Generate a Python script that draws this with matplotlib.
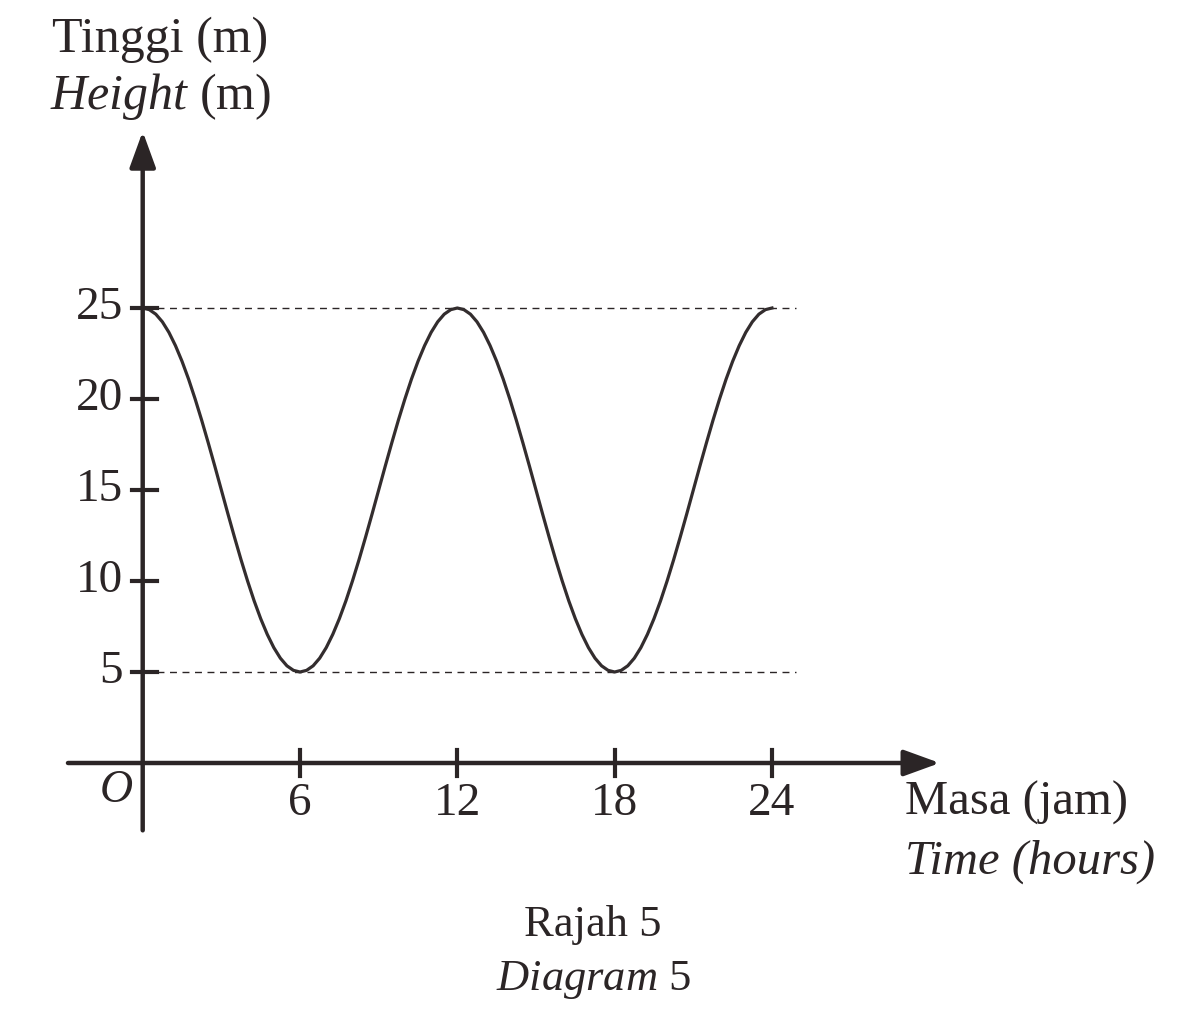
import matplotlib
matplotlib.use('Agg')
import matplotlib.pyplot as plt

plt.rcParams['font.family'] = ['Liberation Serif', 'DejaVu Serif']
plt.rcParams['mathtext.fontset'] = 'custom'
plt.rcParams['mathtext.rm'] = 'Liberation Serif'
plt.rcParams['mathtext.it'] = 'Liberation Serif:italic'

# heights every quarter hour
time_h = [i * 0.25 for i in range(97)]
height_m = [
    # 0 - 6 h
    25, 24.91, 24.66, 24.24, 23.66, 22.93, 22.07, 21.09, 20, 18.83, 17.59, 16.31,
    15, 13.69, 12.41, 11.17, 10, 8.91, 7.93, 7.07, 6.34, 5.76, 5.34, 5.09,
    # 6 - 12 h
    5, 5.09, 5.34, 5.76, 6.34, 7.07, 7.93, 8.91, 10, 11.17, 12.41, 13.69,
    15, 16.31, 17.59, 18.83, 20, 21.09, 22.07, 22.93, 23.66, 24.24, 24.66, 24.91,
    # 12 - 18 h
    25, 24.91, 24.66, 24.24, 23.66, 22.93, 22.07, 21.09, 20, 18.83, 17.59, 16.31,
    15, 13.69, 12.41, 11.17, 10, 8.91, 7.93, 7.07, 6.34, 5.76, 5.34, 5.09,
    # 18 - 24 h
    5, 5.09, 5.34, 5.76, 6.34, 7.07, 7.93, 8.91, 10, 11.17, 12.41, 13.69,
    15, 16.31, 17.59, 18.83, 20, 21.09, 22.07, 22.93, 23.66, 24.24, 24.66, 24.91,
    25,
]
x_ticks = [6, 12, 18, 24]
y_ticks = [5, 10, 15, 20, 25]
ref_lines = [25, 5]

ink = '#2b2526'
W, H = 1179, 1023
fig = plt.figure(figsize=(W / 100, H / 100), dpi=100)
ax = fig.add_axes([0, 0, 1, 1])
ax.axis('off')

# pixel scale of the original drawing
x0, sx = 142.7, 26.22
y0, sy = 763, 18.2
ax.set_xlim(-x0 / sx, (W - x0) / sx)
ax.set_ylim((y0 - H) / sy, y0 / sy)

# axes with arrows
arr = dict(arrowstyle='-|>,head_length=1.1,head_width=0.4', lw=3.2,
           color=ink, shrinkA=0, shrinkB=0, mutation_scale=20)
ax.annotate('', xy=(30.4, 0), xytext=(-2.85, 0), arrowprops=arr)
ax.annotate('', xy=(0, 34.7), xytext=(0, -3.7), arrowprops=arr)

# dashed reference lines
for v in ref_lines:
    ax.plot([0.55, 24.9], [v, v], ls=(0, (5, 4)), lw=1.0, color=ink)

# curve
ax.plot(time_h, height_m, color='#332d2e', lw=2.3, solid_joinstyle='round')

# ticks and labels
for t in x_ticks:
    ax.plot([t, t], [-0.7, 0.7], color=ink, lw=3)
    ax.text(t, -2.25, str(t), ha='center', va='center', fontsize=34, color=ink)
for v in y_ticks:
    ax.plot([-0.42, 0.55], [v, v], color=ink, lw=3)
    ax.text(-0.75, v, str(v), ha='right', va='center', fontsize=34, color=ink)
ax.text(-1.0, -1.5, 'O', style='italic', ha='center', va='center',
        fontsize=33, color=ink)

# axis titles
ax.text(52 / W, 1 - 40 / H, 'Tinggi (m)', transform=fig.transFigure,
        ha='left', va='center', fontsize=36, color=ink)
ax.text(50 / W, 1 - 97 / H, '$\\mathit{Height}$ (m)', transform=fig.transFigure,
        ha='left', va='center', fontsize=36, color=ink)
ax.text(905 / W, 1 - 803 / H, 'Masa (jam)', transform=fig.transFigure,
        ha='left', va='center', fontsize=35, color=ink)
ax.text(905 / W, 1 - 862 / H, 'Time (hours)', style='italic', transform=fig.transFigure,
        ha='left', va='center', fontsize=35, color=ink)

# caption
ax.text(593 / W, 1 - 925 / H, 'Rajah 5', transform=fig.transFigure,
        ha='center', va='center', fontsize=32, color=ink)
ax.text(593 / W, 1 - 980 / H, '$\\mathit{Diagram}$ 5', transform=fig.transFigure,
        ha='center', va='center', fontsize=32, color=ink)

fig.savefig('out.png', dpi=100, facecolor='white')
